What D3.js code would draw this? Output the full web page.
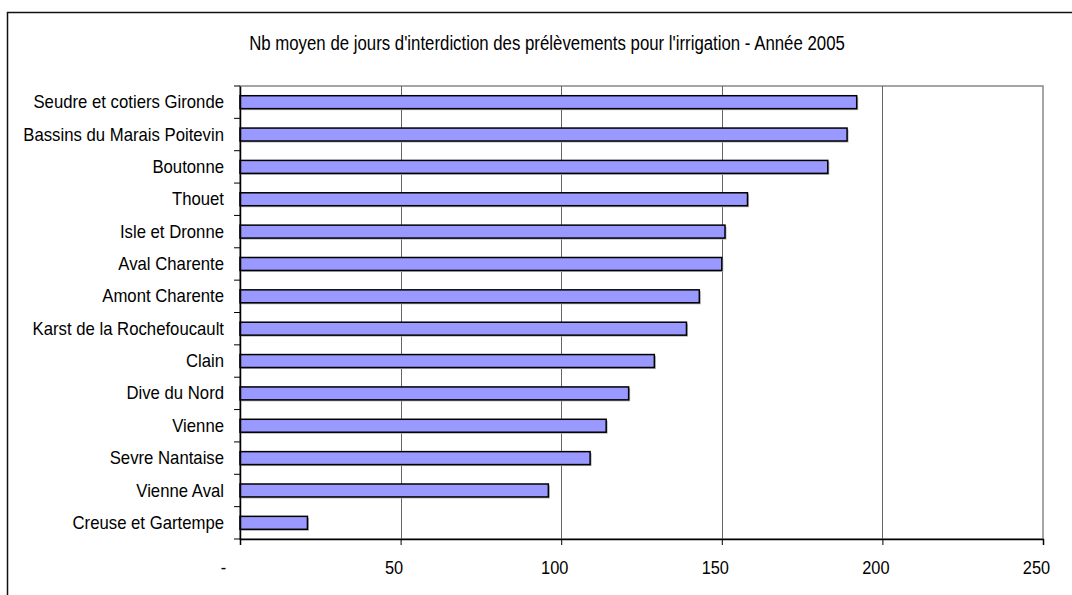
<!DOCTYPE html>
<html>
<head>
	<meta charset="utf-8">
	<title>Interdictions irrigation 2005</title>
	<script src="https://cdn.jsdelivr.net/npm/d3@7"></script>
<style>
body { margin: 0; background: #fff; }
svg text { font-family: "Liberation Sans", Arial, sans-serif; fill: #000; }
.grid line { stroke: #666; stroke-width: 1px; }
.bar { fill: #9999ff; stroke: #000; stroke-width: 1.5px; }
</style>
</head>
<body>
<svg width="1072" height="595"></svg>
<script>

var categories = ["Seudre et cotiers Gironde", "Bassins du Marais Poitevin", "Boutonne", "Thouet",
	"Isle et Dronne", "Aval Charente", "Amont Charente", "Karst de la Rochefoucault", "Clain",
	"Dive du Nord", "Vienne", "Sevre Nantaise", "Vienne Aval", "Creuse et Gartempe"];
var values = [192, 189, 183, 158, 151, 150, 143, 139, 129, 121, 114, 109, 96, 21];
var xTicks = [0, 50, 100, 150, 200, 250];
var title = "Nb moyen de jours d'interdiction des prélèvements pour l'irrigation - Année 2005";

var svg = d3.select("svg"),
	plotLeft = 240, plotRight = 1043, plotTop = 86, plotBottom = 539;

// squeeze text horizontally to mimic a narrow face
function narrow(sel, k) {
	sel.each(function() {
		var w = this.getComputedTextLength();
		d3.select(this).attr("textLength", w * k).attr("lengthAdjust", "spacingAndGlyphs");
	});
}

// outer chart frame
svg.append("rect")
	.attr("x", 7.5).attr("y", 12.5)
	.attr("width", 1080).attr("height", 600)
	.attr("fill", "none").attr("stroke", "#111").attr("stroke-width", 1.5);

svg.append("text")
	.attr("x", 547).attr("y", 50)
	.attr("text-anchor", "middle")
	.style("font-size", "20px")
	.text(title)
	.call(narrow, 0.84);

var x = d3.scaleLinear().domain([0, 250]).range([plotLeft, plotRight]);
var y = d3.scaleBand().domain(categories).range([plotTop, plotBottom]).paddingInner(0.6).paddingOuter(0.3);
var band = d3.scaleBand().domain(categories).range([plotTop, plotBottom]);

// plot area border
svg.append("rect")
	.attr("x", plotLeft).attr("y", plotTop)
	.attr("width", plotRight - plotLeft).attr("height", plotBottom - plotTop)
	.attr("fill", "none").attr("stroke", "#888").attr("stroke-width", 1.5);

svg.append("g")
	.attr("class", "grid")
	.selectAll("line")
	.data(xTicks.slice(1, -1))
	.enter().append("line")
	  .attr("x1", function(d) { return Math.round(x(d)) + 0.5; })
	  .attr("x2", function(d) { return Math.round(x(d)) + 0.5; })
	  .attr("y1", plotTop).attr("y2", plotBottom);

// bar shadows
svg.append("g")
	.selectAll("rect")
	.data(values)
	.enter().append("rect")
	  .attr("x", plotLeft + 1.5)
	  .attr("y", function(d, i) { return y(categories[i]) + 1.5; })
	  .attr("width", function(d) { return x(d) - plotLeft; })
	  .attr("height", y.bandwidth())
	  .attr("fill", "#b0b0b0");

svg.append("g")
	.selectAll("rect")
	.data(values)
	.enter().append("rect")
	  .attr("class", "bar")
	  .attr("x", plotLeft)
	  .attr("y", function(d, i) { return y(categories[i]); })
	  .attr("width", function(d) { return x(d) - plotLeft; })
	  .attr("height", y.bandwidth());

// axes
var xAxis = svg.append("g")
	.attr("transform", "translate(0," + plotBottom + ")")
	.call(d3.axisBottom(x).tickValues(xTicks).tickSize(6).tickPadding(16)
		.tickFormat(function(d) { return d === 0 ? "-" : d; }));
xAxis.select(".domain").attr("stroke", "#000").attr("stroke-width", 1.5);
xAxis.selectAll("text")
	.style("font-size", "19px")
	.attr("dx", function(d) { return d === 0 ? -17 : -7; })
	.call(narrow, 0.86);

var yAxis = svg.append("g")
	.attr("transform", "translate(" + plotLeft + ",0)")
	.call(d3.axisLeft(band).tickSize(0).tickPadding(16));
yAxis.select(".domain").attr("stroke", "#000").attr("stroke-width", 1.5);
yAxis.selectAll("text")
	.style("font-size", "19px")
	.call(narrow, 0.88);

// ticks between categories
svg.append("g")
	.selectAll("line")
	.data(d3.range(categories.length + 1))
	.enter().append("line")
	  .attr("x1", plotLeft - 6).attr("x2", plotLeft)
	  .attr("y1", function(i) { return plotTop + i * band.step(); })
	  .attr("y2", function(i) { return plotTop + i * band.step(); })
	  .attr("stroke", "#000");

</script>
</body>
</html>
